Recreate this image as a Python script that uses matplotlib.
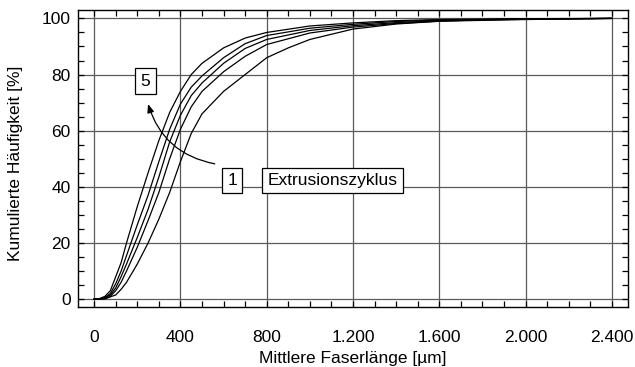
import matplotlib
matplotlib.use("Agg")
import matplotlib.pyplot as plt
from matplotlib.ticker import MultipleLocator

plt.rcParams['font.family'] = ['Liberation Sans', 'DejaVu Sans']

# Cumulative fibre length distributions after extrusion cycles 1..5
x_cycle5 = [0, 25, 50, 75, 100, 125, 150, 200, 250, 300, 350, 400, 450, 500,
            600, 700, 800, 1000, 1200, 1400, 1600, 2000, 2400]
y_cycle5 = [0, 0.2, 1, 3, 8, 13, 20, 33, 45, 56.5, 66.5, 74, 80, 84,
            89.5, 93, 95, 97.3, 98.4, 99.2, 99.6, 99.9, 100]

x_cycle4 = [0, 25, 50, 75, 100, 125, 150, 200, 250, 300, 350, 400, 450, 500,
            600, 700, 800, 1000, 1200, 1400, 1600, 2000, 2400]
y_cycle4 = [0, 0.1, 0.6, 2, 5.5, 10, 15.5, 26.5, 37, 49, 60.5, 69.5, 75.5, 79.5,
            86, 91, 93.9, 96.5, 97.9, 98.9, 99.4, 99.8, 100]

x_cycle3 = [0, 25, 50, 75, 100, 125, 150, 200, 250, 300, 350, 400, 450, 500,
            600, 700, 800, 1000, 1200, 1400, 1600, 2000, 2400]
y_cycle3 = [0, 0, 0.4, 1.5, 4, 8, 12.5, 22, 32, 43.5, 56, 65.5, 72.5, 77,
            84, 89.3, 92.5, 95.7, 97.4, 98.5, 99.2, 99.7, 100]

x_cycle2 = [0, 25, 50, 75, 100, 125, 150, 200, 250, 300, 350, 400, 450, 500,
            600, 700, 800, 1000, 1200, 1400, 1600, 2000, 2400]
y_cycle2 = [0, 0, 0.2, 1, 3, 6, 10, 18.5, 28, 38, 50, 60.5, 68.5, 74,
            81, 86.5, 90.7, 94.8, 96.9, 98.2, 99, 99.6, 100]

x_cycle1 = [0, 50, 100, 125, 150, 200, 250, 300, 350, 400, 450, 500, 600,
            700, 800, 900, 1000, 1200, 1400, 1600, 1800, 2000, 2400]
y_cycle1 = [0, 0.1, 1.5, 3.5, 6, 12.5, 20, 28.5, 38, 49, 59, 66, 74,
            80, 86, 89.5, 92.5, 96.2, 98, 99, 99.5, 99.8, 100]

x_ticks = [0, 400, 800, 1200, 1600, 2000, 2400]
x_tick_labels = ["0", "400", "800", "1.200", "1.600", "2.000", "2.400"]
y_ticks = [0, 20, 40, 60, 80, 100]

FS = 12.5

fig = plt.figure(figsize=(6.35, 3.67), dpi=100)
ax = fig.add_axes([0.1228, 0.1635, 0.8662, 0.8093])

for xs, ys in [(x_cycle5, y_cycle5), (x_cycle4, y_cycle4), (x_cycle3, y_cycle3),
               (x_cycle2, y_cycle2), (x_cycle1, y_cycle1)]:
    ax.plot(xs, ys, color='black', lw=0.9, zorder=3)

ax.set_xlim(-75, 2475)
ax.set_ylim(-2.8, 103)

ax.set_xticks(x_ticks)
ax.set_xticklabels(x_tick_labels)
ax.set_yticks(y_ticks)
ax.xaxis.set_minor_locator(MultipleLocator(100))
ax.yaxis.set_minor_locator(MultipleLocator(5))

ax.grid(True, which='major', color='#5a5a5a', lw=0.9, zorder=1)
ax.tick_params(which='both', direction='in', top=True, right=True,
               color='black', width=0.9)
ax.tick_params(which='major', length=4.5, labelsize=FS)
ax.tick_params(axis='x', which='major', pad=16.5)
ax.tick_params(axis='y', which='major', pad=5.3)
ax.tick_params(which='minor', length=4.5)
for s in ax.spines.values():
    s.set_linewidth(1.0)

ax.set_xlabel("Mittlere Faserlänge [µm]", fontsize=FS)
ax.xaxis.label.set_va('center')
ax.xaxis.set_label_coords(0.5, -0.175)
ax.set_ylabel("Kumulierte Häufigkeit [%]", fontsize=FS)
ax.yaxis.label.set_va('center')
ax.yaxis.set_label_coords(-0.1136, 0.485)

box = dict(boxstyle='square,pad=0.3', fc='white', ec='black', lw=0.9)
ax.text(238, 77.7, "5", ha='center', va='center', fontsize=FS, bbox=box, zorder=5)
ax.text(640, 42.3, "1", ha='center', va='center', fontsize=FS, bbox=box, zorder=5)
ax.text(1105, 42.3, "Extrusionszyklus", ha='center', va='center', fontsize=FS,
        bbox=box, zorder=5)

ax.annotate("", xy=(250, 69.5), xytext=(559, 48.2),
            arrowprops=dict(arrowstyle='-|>,head_length=0.5,head_width=0.2',
                            color='black', lw=0.9,
                            connectionstyle='arc3,rad=-0.3',
                            shrinkA=0, shrinkB=0),
            zorder=4)

fig.savefig("out.png", dpi=100)
